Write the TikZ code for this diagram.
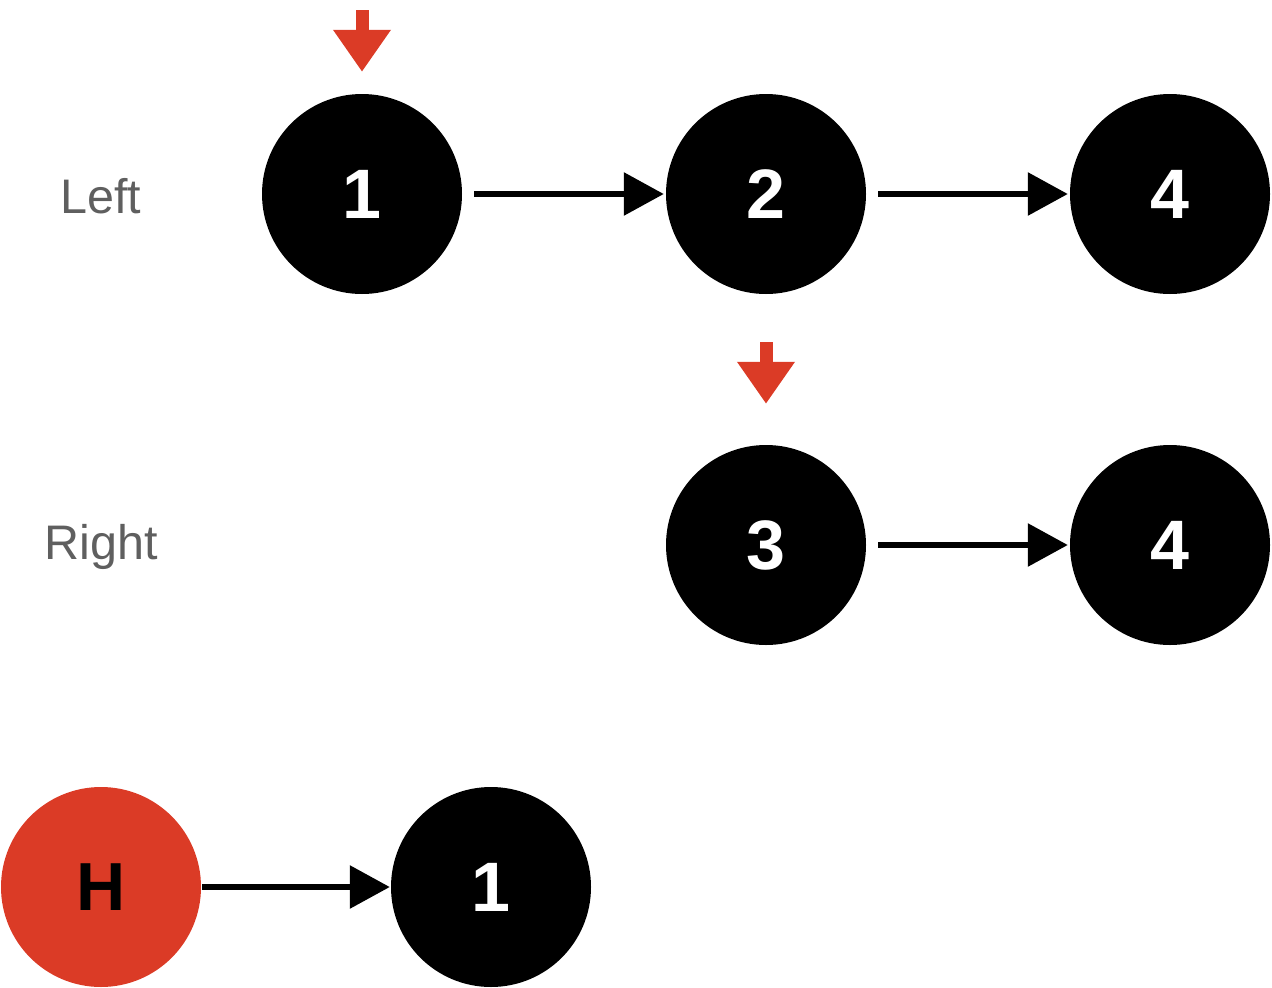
\documentclass[tikz,border=0pt]{standalone}
\usepackage{fontspec}
\setmainfont{Liberation Sans}
\usetikzlibrary{arrows.meta}
\definecolor{ptred}{RGB}{219,59,38}
\definecolor{lblgray}{RGB}{95,95,95}
\tikzset{
  listnode/.style={circle,fill=black,minimum size=200pt,inner sep=0pt,text=white,font=\fontsize{70}{70}\selectfont\bfseries},
  headnode/.style={circle,fill=ptred,minimum size=200pt,inner sep=0pt,text=black,font=\fontsize{68}{68}\selectfont\bfseries},
  lbl/.style={text=lblgray,font=\fontsize{48.5}{48.5}\selectfont},
  link/.style={line width=6pt,-{Triangle[length=40pt,width=42pt]}},
  ptr/.style={draw=ptred,line width=13pt,-{Triangle[length=42pt,width=55pt]},ptred}
}
\begin{document}
\begin{tikzpicture}[x=1pt,y=-1pt]
\useasboundingbox (0,0) rectangle (1272,988);
\node[lbl] (left) at (101,196) {Left};
\node[lbl] (right) at (101,547) {Right};
\node[listnode] (a1) at (362,194) {1};
\node[listnode] (a2) at (766,194) {2};
\node[listnode] (a4) at (1170,194) {4};
\node[listnode] (b3) at (766,545) {3};
\node[listnode] (b4) at (1170,545) {4};
\node[headnode] (h) at (101,887) {H};
\node[listnode] (c1) at (491,887) {1};
\draw[link,shorten <=12pt,shorten >=2pt] (a1) -- (a2);
\draw[link,shorten <=12pt,shorten >=2pt] (a2) -- (a4);
\draw[link,shorten <=12pt,shorten >=2pt] (b3) -- (b4);
\draw[link,shorten <=1pt,shorten >=1pt] (h) -- (c1);
\coordinate (p1) at (362,10);
\coordinate (p2) at (766,342);
\draw[ptr,shorten >=22pt] (p1) -- (a1.north);
\draw[ptr,shorten >=41pt] (p2) -- (b3.north);
\end{tikzpicture}
\end{document}
